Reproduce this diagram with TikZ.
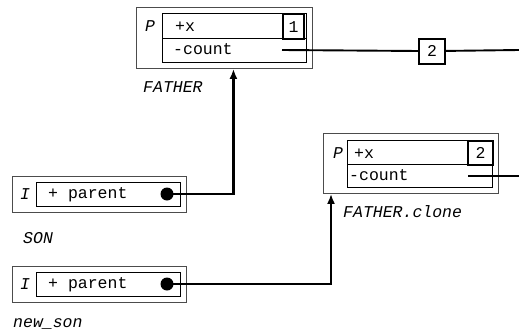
\documentclass[tikz,border=0pt]{standalone}
\usepackage{fontspec}
\setmonofont{Liberation Mono}
\usetikzlibrary{arrows.meta}
\begin{document}
\begin{tikzpicture}
	[x=1pt,y=-1pt,
	 outerbox/.style={draw=black!70,line width=0.9pt,anchor=north west,inner sep=0pt},
	 innerbox/.style={draw,line width=1.2pt,anchor=north west,inner sep=0pt},
	 numbox/.style={draw,line width=2.2pt,anchor=north west,inner sep=0pt,font=\fontsize{16.5}{18}\ttfamily},
	 field/.style={anchor=base west,inner sep=0pt,font=\fontsize{16.5}{18}\ttfamily},
	 objname/.style={anchor=base west,inner sep=0pt,font=\fontsize{16.5}{18}\ttfamily\itshape},
	 refdot/.style={circle,fill,inner sep=0pt,minimum size=13pt},
	 link/.style={line width=1.9pt},
	 refarrow/.style={line width=2.4pt,-{Latex[length=10pt,width=8pt]}}]
    \useasboundingbox (0,0) rectangle (519,332);

    % FATHER
    \node[outerbox,minimum width=176pt,minimum height=61pt] (father) at (136,7) {};
    \node[innerbox,minimum width=144pt,minimum height=49pt] (fatherbox) at (162,13) {};
    \draw[line width=1.2pt] (fatherbox.west) -- (fatherbox.east);
    \node[numbox,minimum width=21pt,minimum height=25pt] (fatherone) at (282,13) {1};
    \node[objname] (fatherp) at (145,31) {P};
    \node[field] (fatherx) at (175,31) {+x};
    \node[field] (fathercount) at (173,54) {-count};
    \node[objname] (fathername) at (143,92) {FATHER};
    \coordinate (fatherref) at (282,50);
    \node[numbox,minimum width=26pt,minimum height=25pt] (fathertwo) at (418,37.5) {2};
    \coordinate (fatherend) at (519,50);

    % FATHER.clone
    \node[outerbox,minimum width=175pt,minimum height=60pt] (clone) at (323,133) {};
    \node[innerbox,minimum width=145pt,minimum height=47pt] (clonebox) at (347,140) {};
    \draw[line width=1.2pt] (clonebox.west) -- (clonebox.east);
    \node[numbox,minimum width=25pt,minimum height=23.5pt] (clonetwo) at (467,140) {2};
    \node[objname] (clonep) at (333,158) {P};
    \node[field] (clonex) at (354,158) {+x};
    \node[field] (clonecount) at (349,180) {-count};
    \node[objname] (clonename) at (343,217) {FATHER.clone};
    \coordinate (cloneref) at (468,176);
    \coordinate (cloneend) at (519,176);

    % SON
    \node[outerbox,minimum width=174pt,minimum height=36pt] (son) at (12,176) {};
    \node[innerbox,minimum width=144pt,minimum height=24pt] (sonbox) at (36,182) {};
    \node[objname] (soni) at (20,199) {I};
    \node[field] (sonparent) at (48,198.5) {+ parent};
    \node[refdot] (sondot) at (167,194) {};
    \node[objname] (sonname) at (23,243) {SON};

    % new_son
    \node[outerbox,minimum width=174pt,minimum height=36pt] (newson) at (12,266) {};
    \node[innerbox,minimum width=144pt,minimum height=24pt] (newsonbox) at (36,272) {};
    \node[objname] (newsoni) at (20,289) {I};
    \node[field] (newsonparent) at (48,288.5) {+ parent};
    \node[refdot] (newsondot) at (167,284) {};
    \node[objname] (newsonname) at (13,327) {new\_son};

    \draw[link] (fatherref) -- (fathertwo) -- (fatherend);
    \draw[link] (cloneref) -- (cloneend);
    \draw[refarrow] (sondot.center) -| ([xshift=9pt]father.south);
    \draw[refarrow,line width=2pt] (newsondot.center) -| ([xshift=8pt]clone.south west);

\end{tikzpicture}
\end{document}
